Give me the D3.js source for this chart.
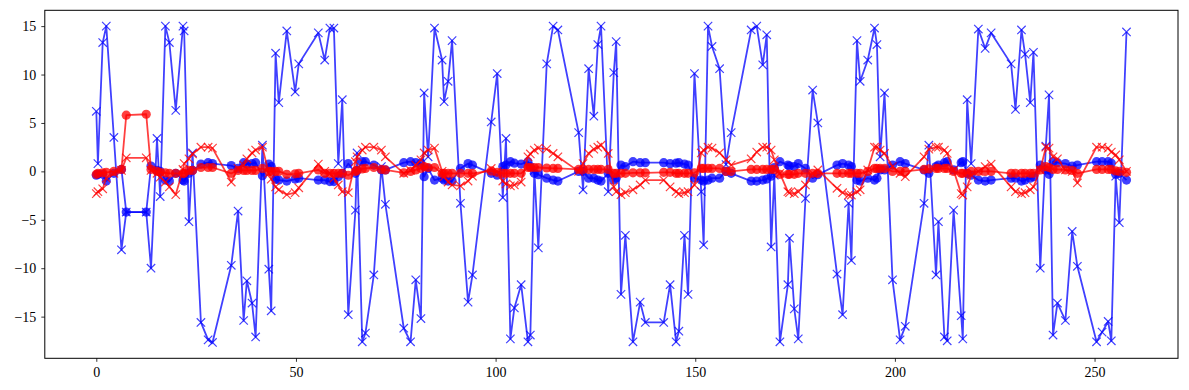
<!DOCTYPE html>
<html><head><meta charset="utf-8">
<script src="https://cdn.jsdelivr.net/npm/d3@7"></script>
<style>
html,body{margin:0;padding:0;background:#fff;}
svg text{font-family:"Liberation Serif","DejaVu Serif",serif;font-size:14px;fill:#000;}
</style></head>
<body>
<svg id="chart" width="1189" height="390"></svg>
<script>
// sample positions (shared by all series)
const xs = [0,0.4,1.6,2.5,4.4,6.3,7.5,12.5,13.7,15.2,16,17.3,18.3,19.9,21.7,22.0,23.2,24.1,26.2,28,29.1,33.8,35.5,36.9,37.7,39,39.9,41.6,43.2,43.8,44.9,45.7,47.7,49.8,50.7,55.6,57.2,58.5,59.5,60.6,61.6,63.1,64.9,65.3,66.6,67.4,69.5,71.4,72.4,77,78.7,80,81.3,82.1,83.1,84.7,86.6,87.1,88.1,89.1,91.2,93.1,94.2,98.9,100.4,101.8,102.6,103.7,104.7,106.4,108.1,108.7,109.7,110.7,112.8,114.4,115.6,120.8,121.9,123.3,124.6,125.6,126.4,128.2,129.6,130.2,131.4,132.5,134.4,136.2,137.5,142.1,143.7,145.2,145.9,147.3,148.2,149.8,151.5,152.1,153.2,154.2,156.1,157.7,159,164,165.4,166.9,167.9,169,169.8,171.2,173.2,173.6,174.8,175.8,177.6,179.4,180.7,185.5,186.9,188.4,189.1,190.5,191.3,193.2,194.9,195.5,196.3,197.4,199.4,201.3,202.6,207.3,208.5,210.3,210.9,212.4,213.1,214.7,216.6,217,218.1,219.1,220.9,222.6,224.1,229.1,230.2,231.7,232.6,233.9,234.7,236.4,237.8,238.6,239.6,240.7,242.7,244.4,245.7,250.5,251.9,253.4,254.2,255.3,256.2,258];
// blue crosses
const blueCross = [6.2,0.8,13.3,15,3.5,-8.1,-4.2,-4.2,-10,3.4,-2.6,15,13.3,6.3,15,14.5,-5.2,1.9,-15.6,-17.4,-17.67,-9.7,-4.1,-15.4,-11.3,-13.6,-17.1,2.7,-10.1,-14.4,12.2,7.1,14.5,8.2,11.1,14.3,11.5,14.8,14.8,0.8,7.4,-14.8,-4.0,1.9,-17.6,-16.7,-10.7,0.5,-3.4,-16.2,-17.6,-11.2,-15.2,8.1,1.5,14.8,11.5,7.2,9.3,13.5,-3.3,-13.5,-10.7,5.1,10.1,-2.7,3.4,-17.3,-14.1,-11.7,-17.6,-16.9,0.1,-7.9,11.1,15,14.6,4.0,-1.9,10.6,5.7,13.1,15,-2.1,10.2,13.4,-12.7,-6.6,-17.6,-13.5,-15.6,-15.6,-11.7,-17.6,-16.5,-6.6,-12.7,10.1,-2.1,-7.6,15,12.9,10.6,0.7,4.0,14.6,15,11,14.1,-7.8,-0.4,-17.6,-11.7,-6.9,-14.2,-17.3,-2.8,8.4,5.0,-10.6,-14.8,-3.3,-9.2,13.5,9.3,11.5,14.8,13.1,1.5,8.1,-11.2,-17.4,-16,-3.3,2.7,-10.7,-5.2,-17.1,-17.5,-4.0,-14.9,-17.3,7.4,0.8,14.7,12.7,14.3,11.1,6.4,14.6,12.1,7.1,12.3,-10,2.6,7.9,-16.9,-13.6,-15.4,-6.2,-9.8,-17.6,-16.6,-15.5,-17.5,-0.5,-5.3,14.4];
// blue circles
const blueDot = [-0.4,-0.3,-0.3,-1.0,-0.2,0.2,-4.2,-4.2,0.55,0.1,0,-0.9,-1.0,-0.2,-0.9,-1.0,-0.2,0.1,0.75,0.9,0.8,0.6,0.3,0.9,0.75,0.8,0.9,-0.45,0.75,0.5,-0.8,-0.9,-1.0,-0.8,-0.7,-0.9,-0.9,-1.05,-1.05,-0.55,-0.2,0.8,-0.2,0.1,1.0,1.0,0.65,0.15,0.15,0.9,1.0,0.9,0.85,-0.55,0.3,-0.9,-0.7,-0.9,-1.0,-1.0,0.3,0.8,0.65,-0.2,-0.4,0.5,0.65,1.0,0.85,0.75,1.0,0.5,-0.2,-0.35,-0.7,-0.9,-1.0,0,0,-0.7,-0.7,-0.9,-1.0,-0.2,-0.9,-0.7,0.65,0.5,1.0,0.9,0.9,0.9,0.8,0.85,0.9,0.75,0.65,-0.7,-0.9,-1.0,-0.9,-0.7,-0.7,0,-0.2,-1.0,-1.0,-0.9,-0.8,-0.5,0.4,1.0,0.65,0.55,0.5,0.8,0.3,-0.7,-0.35,0.65,0.8,0.65,0.5,-0.9,-1.0,-0.7,-0.9,-0.7,0.15,0.15,0.65,1.0,0.8,0.15,-0.2,0.5,0.65,0.9,1.0,0.15,0.9,1.0,-0.2,-0.4,-0.9,-1.0,-0.9,-0.7,-0.7,-1.0,-0.9,-0.7,-0.55,0.65,0.15,-0.3,1.0,0.9,0.8,0.55,0.65,1.0,1.0,1.0,0.85,-0.3,-0.2,-0.9];
// red crosses
const redCross = [-2.3,-2.1,-1.8,-0.7,-0.2,0.1,1.4,1.4,0.1,-0.2,-0.6,-1.1,-1.6,-2.4,0.2,0.8,1.3,1.8,2.5,2.5,2.4,-1.1,0.3,0.65,1.3,1.9,2.2,2.5,-0.2,-0.8,-1.6,-1.9,-2.4,-2.2,-1.7,0.75,0,-0.2,-0.7,-1.4,-2.1,-2.2,1.0,1.5,2.2,2.5,2.5,2.2,1.5,-0.2,0.1,0.65,1.2,1.9,2.2,2.4,0,-0.55,-1.1,-1.4,-1.5,-1.0,-0.5,0.3,0,-1.0,-1.3,-1.5,-1.4,-1.1,1.5,1.8,2.2,2.4,2.3,1.85,1.5,0,0.8,1.85,2.3,2.5,2.7,1.85,-1.6,-2.1,-2.4,-2.2,-1.9,-1.4,-0.9,-0.9,-1.6,-2.1,-2.3,-2.2,-2.1,-1.4,1.9,2.2,2.5,2.4,1.9,1.2,0.65,1.3,2.0,2.5,2.5,2.2,1.2,-0.2,-2.1,-2.2,-2.3,-2.1,-1.4,-0.2,0.15,-1.75,-2.2,-2.45,-2.45,-2.1,-1.9,0.15,2.5,2.5,2.2,1.85,0.5,-0.2,-0.55,1.5,2.3,2.5,2.5,2.2,1.85,0.1,-2.3,-2.45,-1.6,-0.4,0,0.5,0.75,-1.6,-2.1,-2.3,-2.2,-1.9,-1.6,0.15,2.5,2.4,1.5,1.3,0.15,0,-1.2,2.5,2.5,2.4,2.0,1.7,1.2,0];
// red circles
const redDot = [-0.3,-0.2,-0.15,-0.1,0,0.2,5.8,5.9,0.2,0,-0.1,-0.15,-0.2,-0.2,-0.2,-0.2,0.1,0.1,0.4,0.4,0.4,-0.2,0.1,0.1,0.1,0.1,0.1,0.3,0,0,0,0,-0.3,-0.25,-0.2,0.15,-0.2,-0.2,-0.2,-0.2,-0.2,-0.4,0,0.1,0.25,0.3,0.4,0.2,0.15,-0.15,0,0.15,0.3,0.5,0.4,0.4,-0.2,-0.2,-0.2,-0.2,-0.2,-0.2,-0.2,0.05,-0.1,-0.2,-0.2,-0.2,-0.2,-0.2,0.4,0.4,0.4,0.4,0.35,0.3,0.3,0.2,0.2,0.2,0.2,0.2,0.2,0.2,-0.2,-0.2,-0.2,-0.2,-0.15,-0.15,-0.15,-0.1,-0.1,-0.2,-0.2,-0.2,-0.2,-0.15,0.3,0.3,0.3,0.3,0.3,0,0,0.2,0.2,0.2,0.2,0.2,0.2,-0.3,-0.3,-0.3,-0.3,-0.2,-0.2,-0.2,-0.2,-0.2,-0.2,-0.2,-0.2,-0.2,-0.2,0,0.3,0.3,0.3,0.3,0,0,0,0.2,0.25,0.3,0.3,0.3,0.3,0,-0.2,-0.2,-0.2,0,0,0,0,-0.2,-0.2,-0.2,-0.2,-0.2,-0.2,0.15,0.5,0.4,0.2,0.2,0.15,0.1,-0.2,0.2,0.2,0.2,0.2,0.05,0,-0.1];
const xTicks = [0,50,100,150,200,250];
const yTicks = [-15,-10,-5,0,5,10,15];

const svg = d3.select("#chart");
const L = 44.8, R = 1178, T = 10.3, B = 358.3;
const xmin = d3.min(xs), xmax = d3.max(xs);
const allY = blueCross.concat(blueDot, redCross, redDot);
const ymin = d3.min(allY), ymax = d3.max(allY);
const xr = xmax - xmin, yr = ymax - ymin;
const x = d3.scaleLinear().domain([xmin - 0.05*xr, xmax + 0.05*xr]).range([L, R]);
const y = d3.scaleLinear().domain([ymin - 0.05*yr, ymax + 0.05*yr]).range([B, T]);

const clip = svg.append("defs").append("clipPath").attr("id","clip")
  .append("rect").attr("x",L).attr("y",T).attr("width",R-L).attr("height",B-T);
const plot = svg.append("g").attr("clip-path","url(#clip)");

function series(vals, color, marker) {
  const pts = xs.map((v,i)=>[v, vals[i]]);
  const g = plot.append("g");
  g.append("path").datum(pts)
    .attr("d", d3.line().x(d=>x(d[0])).y(d=>y(d[1])))
    .attr("fill","none").attr("stroke",color).attr("stroke-width",1.8)
    .attr("stroke-opacity",0.75).attr("stroke-linejoin","round");
  if (marker === "o") {
    g.selectAll("circle").data(pts).join("circle")
      .attr("cx",d=>x(d[0])).attr("cy",d=>y(d[1])).attr("r",4.6)
      .attr("fill",color).attr("fill-opacity",0.75);
  } else {
    const s = 4.2;
    g.selectAll("path.m").data(pts).join("path").attr("class","m")
      .attr("d", d => {const cx=x(d[0]), cy=y(d[1]);
        return `M${cx-s},${cy-s}L${cx+s},${cy+s}M${cx-s},${cy+s}L${cx+s},${cy-s}`;})
      .attr("stroke",color).attr("stroke-width",1.2).attr("stroke-opacity",0.75).attr("fill","none");
  }
}
series(blueCross, "#0000ff", "x");
series(blueDot, "#0000ff", "o");
series(redCross, "#ff0000", "x");
series(redDot, "#ff0000", "o");

// axes
const xAxis = svg.append("g").attr("transform",`translate(0,${B})`)
  .call(d3.axisBottom(x).tickValues(xTicks).tickSize(3.5).tickPadding(5).tickFormat(d3.format("d")));
const yAxis = svg.append("g").attr("transform",`translate(${L},0)`)
  .call(d3.axisLeft(y).tickValues(yTicks).tickSize(3.5).tickPadding(5).tickFormat(d => d<0 ? "\u2212"+Math.abs(d) : String(d)));
[xAxis,yAxis].forEach(a=>{
  a.select(".domain").remove();
  a.selectAll("line").attr("stroke","#000").attr("stroke-width",0.8);
  a.selectAll("text").attr("font-family","Liberation Serif, DejaVu Serif, serif").attr("font-size",14).attr("fill","#000");
});
svg.append("rect").attr("x",L).attr("y",T).attr("width",R-L).attr("height",B-T)
  .attr("fill","none").attr("stroke","#000").attr("stroke-width",1);
</script>
</body></html>
